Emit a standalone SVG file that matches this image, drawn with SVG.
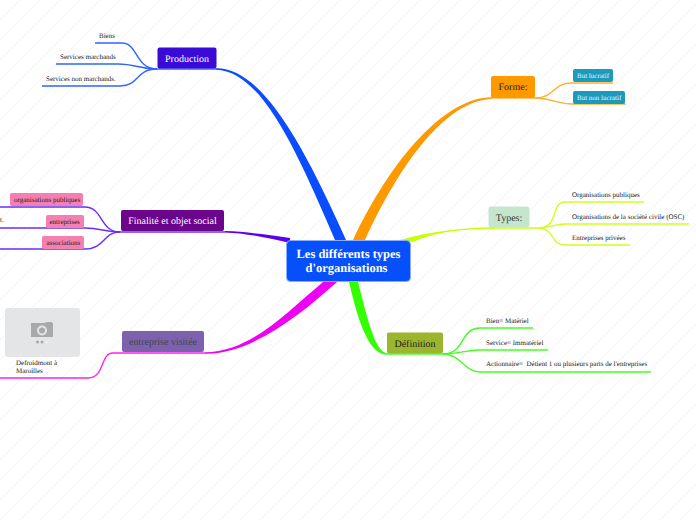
<svg xmlns="http://www.w3.org/2000/svg" width="696" height="520" viewBox="0 0 696 520">
<style>
text{font-family:"Liberation Serif","Times New Roman",serif;text-rendering:geometricPrecision;white-space:pre}
.c{fill:none;stroke-width:1.4}
.t{stroke:none}
.s{font-size:7px;fill:#222}
.m{font-size:10px;text-anchor:middle}
.w{font-size:12.500px;font-weight:bold;fill:#fff;text-anchor:middle}
</style>
<defs><pattern id="bg" width="20" height="20" patternUnits="userSpaceOnUse"><path d="M0 20L20 0" stroke="#f3f3f5" stroke-width="1"/></pattern></defs>
<rect width="696" height="520" fill="#fff"/>
<rect width="696" height="520" fill="url(#bg)"/>
<g id="connectors">
<path class="t" fill="#0a4dff" d="M346 240C304 146 262 67.500 216 68.300L216 69.700C262 71 297 152 335 240Z"/>
<path class="t" fill="#ff9900" d="M353 240C392 158 445 97.500 492 97.300L492 98.700C445 101 400 164 365 240Z"/>
<path class="t" fill="#c6ff00" d="M400 240C430 232 460 227.500 495 227.300L495 228.700C460 229 435 232 413 242Z"/>
<path class="t" fill="#33ff00" d="M349 282C358 320 368 354 387 354.700L387 353.500C375 350 369 325 358 282Z"/>
<path class="t" fill="#ee00f5" d="M323 282C285 314 250 352 205 352.300L205 353.700C250 354 297 318 337 282Z"/>
<path class="t" fill="#5a00f0" d="M225 231C245 231.500 270 235 290 238L290 243C270 238 245 233 225 232.400Z"/>
<g class="c" stroke="#2f66ff">
<path d="M157 69C135 69 138 43 122 43L95 43"/>
<path d="M157 69C140 69 135 64 118 64L56 64"/>
<path d="M157 69C135 69 140 86 120 86L42 86"/>
<path d="M157 69H218"/>
</g>
<g class="c" stroke="#6a2cff">
<path d="M120 232C100 232 103 207 85 207L0 207"/>
<path d="M120 232C105 232 100 228 85 228L0 228"/>
<path d="M120 232C103 232 105 249 85 249L0 249"/>
<path d="M120 232H225"/>
</g>
<path class="c" stroke="#ff22ee" d="M122 353H113C100 353 105 378 88 378L0 378"/>
<path class="c" stroke="#ff22ee" d="M122 353H205"/>
<g class="c" stroke="#ffb030">
<path d="M535 98C555 98 552 83 572 83H613"/>
<path d="M535 98C552 98 555 104 573 104H626"/>
<path d="M491 98H535"/>
</g>
<g class="c" stroke="#d0ff1a">
<path d="M538 228C560 228 550 202 565 202H644"/>
<path d="M538 228C550 228 555 224 565 224H689"/>
<path d="M538 228C555 228 550 245 565 245H630"/>
<path d="M488 228H538"/>
</g>
<g class="c" stroke="#44ff22">
<path d="M443 354C465 354 460 328 480 328H533"/>
<path d="M443 354C460 354 465 350 480 350H548"/>
<path d="M443 354C460 354 465 372 480 372H651"/>
<path d="M387 354H443"/>
</g>
</g>
<g id="center"><rect x="286.500" y="240.500" width="124" height="41" rx="4" fill="#0550fb" stroke="#8aaeff"/>
<text class="w" x="348.500" y="258">Les différents types</text>
<text class="w" x="346.500" y="272">d'organisations</text></g>
<g id="production"><rect x="157.500" y="47.500" width="59" height="21" rx="2" fill="#3a0bd6"/><text class="m" x="187" y="61.500" fill="#fff">Production</text></g>
<g id="finalite"><rect x="121" y="210" width="103" height="21" rx="2" fill="#6a058c"/><text class="m" x="172.500" y="224" fill="#fff">Finalité et objet social</text></g>
<g id="entreprise"><rect x="122" y="331" width="82" height="21" rx="2" fill="#7c62ae"/><text class="m" x="163" y="345" fill="#444">entreprise visitée</text></g>
<g id="forme"><rect x="491" y="76" width="44" height="22" rx="2" fill="#ff9900"/><text class="m" x="513" y="90" fill="#222">Forme:</text></g>
<g id="types"><rect x="488.500" y="206.500" width="41" height="21" rx="3" fill="#c5e5cd"/><text class="m" x="509" y="220.500" fill="#333">Types:</text></g>
<g id="definition"><rect x="387" y="332.500" width="56" height="21" rx="2" fill="#9cb52e"/><text class="m" x="415" y="346.500" fill="#222">Définition</text></g>
<g id="n-biens"><text class="s" x="99" y="38">Biens</text></g>
<g id="n-sm"><text class="s" x="60" y="59">Services marchands</text></g>
<g id="n-snm"><text class="s" x="46" y="81">Services non marchands.</text></g>
<g id="n-op"><rect x="10" y="193" width="73" height="13" rx="2" fill="#f47fb0"/><text class="s" x="14" y="201.500">organisations publiques</text></g>
<g id="n-ent"><text class="s" x="0" y="222">t.</text><rect x="46" y="215" width="38" height="13" rx="2" fill="#f47fb0"/><text class="s" x="49.500" y="223.500">entreprises</text></g>
<g id="n-asso"><rect x="42" y="236" width="42" height="13" rx="2" fill="#f47fb0"/><text class="s" x="46.500" y="244.500">associations</text></g>
<g id="n-photo"><rect x="5" y="308" width="75" height="49" rx="3" fill="#e4e5e7"/>
<path d="M31 323h14l1-1h6v1h1v14H31Z" fill="#a8a9ab"/><circle cx="42" cy="330.500" r="4" fill="none" stroke="#e4e5e7" stroke-width="2"/><circle cx="37.500" cy="342" r="1.500" fill="#a8a9ab"/><circle cx="42" cy="342" r="1.500" fill="#a8a9ab"/><circle cx="47" cy="342" r="1.500" fill="#eeeeef"/>
<text class="s" x="16" y="365">Defroidmont à</text><text class="s" x="16" y="373">Maroilles</text></g>
<g id="n-bl"><rect x="573" y="69" width="40" height="13" rx="2" fill="#1a9bbd"/><text class="s" x="577" y="77.500" style="fill:#e8f6fa">But lucratif</text></g>
<g id="n-bnl"><rect x="573" y="91" width="52" height="13" rx="2" fill="#1a9bbd"/><text class="s" x="577" y="99.500" style="fill:#e8f6fa">But non lucratif</text></g>
<g id="n-t1"><text class="s" x="572" y="197">Organisations publiques</text></g>
<g id="n-t2"><text class="s" x="572" y="219">Organisations de la société civile (OSC)</text></g>
<g id="n-t3"><text class="s" x="572" y="240">Entreprises privées</text></g>
<g id="n-d1"><text class="s" x="486" y="323">Bien= Matériel</text></g>
<g id="n-d2"><text class="s" x="486" y="345">Service= Immatériel</text></g>
<g id="n-d3"><text class="s" x="486" y="366">Actionnaire=  Détient 1 ou plusieurs parts de l'entreprises</text></g>
</svg>
